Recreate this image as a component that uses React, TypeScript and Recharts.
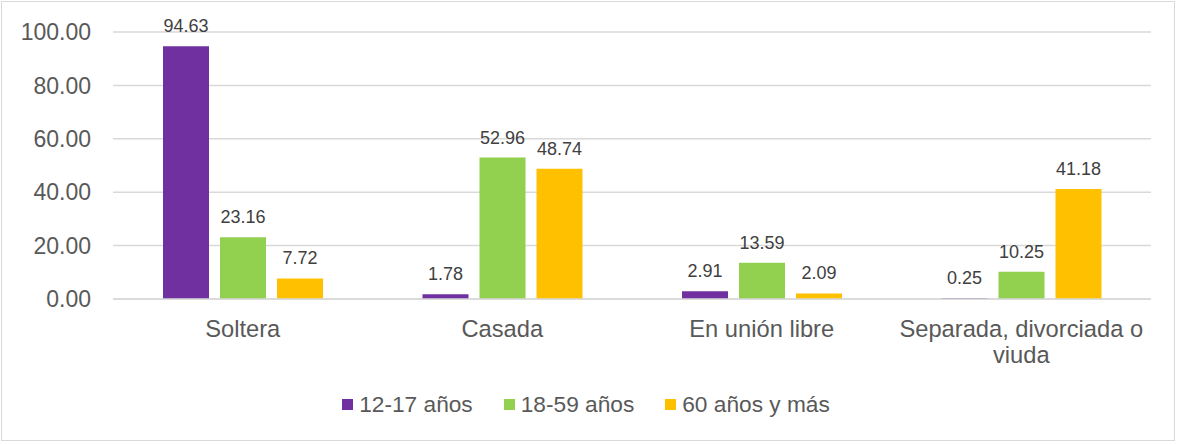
import React from "react";
import { BarChart, Bar, XAxis, YAxis, CartesianGrid, Legend, LabelList } from "recharts";

const categories = ["Soltera", "Casada", "En unión libre", "Separada, divorciada o viuda"];
const s12_17 = [94.63, 1.78, 2.91, 0.25];
const s18_59 = [23.16, 52.96, 13.59, 10.25];
const s60 = [7.72, 48.74, 2.09, 41.18];
const seriesNames = ["12-17 años", "18-59 años", "60 años y más"];
const seriesColors = ["#7030A0", "#92D050", "#FFC000"];
const yTicks = [0, 20, 40, 60, 80, 100];

const data = categories.map((c, i) => ({ cat: c, a: s12_17[i], b: s18_59[i], c: s60[i] }));

const FONT = "'Liberation Sans', Arial, sans-serif";
const X_FONT_SIZE = 23.7;
const WRAP_WIDTH = 255;

let ctx: CanvasRenderingContext2D | null = null;
function measure(s: string): number {
  if (!ctx) {
    const c = document.createElement("canvas");
    ctx = c.getContext("2d");
  }
  if (!ctx) return s.length * X_FONT_SIZE * 0.5;
  ctx.font = `${X_FONT_SIZE}px ${FONT}`;
  return ctx.measureText(s).width;
}

function wrap(text: string, width: number): string[] {
  const words = text.split(" ");
  const lines: string[] = [];
  let cur = "";
  for (const w of words) {
    const t = cur ? cur + " " + w : w;
    if (cur && measure(t) > width) {
      lines.push(cur);
      cur = w;
    } else {
      cur = t;
    }
  }
  if (cur) lines.push(cur);
  return lines;
}

const XTick = (props: any) => {
  const { x, y, payload } = props;
  const lines = wrap(String(payload.value), WRAP_WIDTH);
  return (
    <text
      x={x}
      y={y + 38}
      textAnchor="middle"
      fontSize={X_FONT_SIZE}
      fontFamily={FONT}
      fill="#595959"
    >
      {lines.map((l, i) => (
        <tspan key={i} x={x} dy={i === 0 ? 0 : 26}>
          {l}
        </tspan>
      ))}
    </text>
  );
};

const LegendContent = () => (
  <div
    style={{
      display: "flex",
      justifyContent: "center",
      alignItems: "center",
      height: 40,
      paddingLeft: 21,
      fontFamily: FONT,
    }}
  >
    {seriesNames.map((n, i) => (
      <div key={n} style={{ display: "flex", alignItems: "center", marginRight: i < seriesNames.length - 1 ? 31 : 0 }}>
        <span style={{ display: "inline-block", width: 11, height: 11, background: seriesColors[i], marginRight: 6 }} />
        <span style={{ fontSize: 22.7, color: "#595959", lineHeight: "26px" }}>{n}</span>
      </div>
    ))}
  </div>
);

const keys = ["a", "b", "c"];

export default function App() {
  return (
    <div style={{ position: "absolute", left: 0, top: 0, width: 1178, height: 444, background: "#fff", fontFamily: FONT }}>
      <div
        style={{
          position: "absolute",
          left: 1,
          top: 1,
          width: 1174,
          height: 440,
          border: "1px solid #d9d9d9",
          boxSizing: "border-box",
        }}
      />
      <div style={{ position: "absolute", left: 0, top: 0 }}>
        <BarChart
          width={1178}
          height={444}
          data={data}
          margin={{ top: 32, right: 27, left: 0, bottom: 20 }}
          barSize={46}
          barGap={11}
        >
          <CartesianGrid vertical={false} stroke="#d9d9d9" strokeWidth={1.5} />
          <XAxis
            dataKey="cat"
            height={85}
            interval={0}
            tickLine={false}
            tickSize={0}
            tickMargin={0}
            axisLine={{ stroke: "#d9d9d9", strokeWidth: 1.5 }}
            tick={<XTick />}
          />
          <YAxis
            width={113}
            domain={[0, 100]}
            ticks={yTicks}
            axisLine={false}
            tickLine={false}
            tickSize={0}
            tickMargin={22}
            tickFormatter={(v: number) => v.toFixed(2)}
            tick={{ fontSize: 23, fill: "#595959", fontFamily: FONT }}
          />
          <Legend verticalAlign="bottom" height={40} content={<LegendContent />} />
          {keys.map((k, i) => (
            <Bar key={k} dataKey={k} name={seriesNames[i]} fill={seriesColors[i]} isAnimationActive={false}>
              <LabelList
                dataKey={k}
                position="top"
                offset={14}
                formatter={(v: number) => v.toFixed(2)}
                style={{ fontSize: 18, fill: "#404040", fontFamily: FONT }}
              />
            </Bar>
          ))}
        </BarChart>
      </div>
    </div>
  );
}
